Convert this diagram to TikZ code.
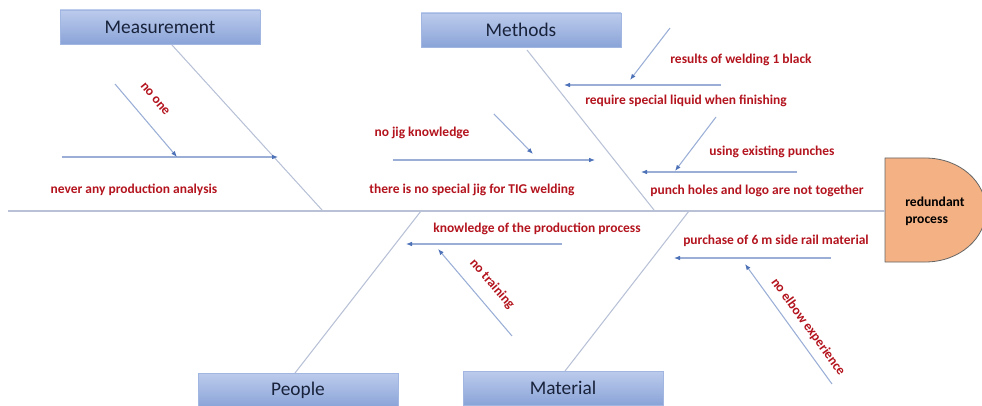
\documentclass[tikz,border=0pt]{standalone}
\usepackage{fontspec}
\setmainfont{Carlito}
\usetikzlibrary{arrows.meta}
\definecolor{boneC}{HTML}{B8C1D6}
\definecolor{lineC}{HTML}{9AAED6}
\definecolor{arrC}{HTML}{4E72B8}
\definecolor{txtR}{HTML}{B3141E}
\definecolor{boxT}{HTML}{BCCBEC}
\definecolor{boxB}{HTML}{8AA4D8}
\definecolor{boxTxt}{HTML}{18223A}
\definecolor{headC}{HTML}{F4B183}
\begin{document}
\begin{tikzpicture}[x=0.75pt,y=-0.75pt,
  bone/.style={draw=boneC,line width=0.8pt},
  cause/.style={draw=lineC,line width=0.8pt,-{Latex[length=4.5pt,width=3.5pt,color=arrC]}},
  catbox/.style={top color=boxT,bottom color=boxB,draw=boxB!80!white,
    minimum width=150pt,minimum height=25.5pt,inner sep=0pt,
    text=boxTxt,font=\fontsize{14.5}{16}\selectfont},
  lbl/.style={text=txtR,font=\bfseries\fontsize{10.1}{11}\selectfont,inner sep=0pt}]
\useasboundingbox (0,0) rectangle (982,406);
\clip (0,0) rectangle (982,406);

% head
\fill[headC] (885,158) -- (925,158) .. controls (960,158) and (986,182) .. (986,210)
  .. controls (986,238) and (960,262) .. (925,262) -- (885,262) -- cycle;
\draw[black!60,line width=0.6pt] (885,158) -- (925,158) .. controls (960,158) and (986,182) .. (986,210)
  .. controls (986,238) and (960,262) .. (925,262) -- (885,262) -- cycle;
\node[anchor=west,align=left,inner sep=0pt,font=\bfseries\fontsize{10.2}{12.5}\selectfont] (head) at (905,211) {redundant\\process};
\coordinate (headW) at (885,211);
\coordinate (tail) at (8,211);
\draw[bone] (tail) -- (headW);

% category boxes
\node[catbox] (meas) at (160,27) {Measurement};
\node[catbox] (meth) at (521,30) {Methods};
\node[catbox] (peop) at (298,390) {People};
\node[catbox] (matl) at (563,388) {Material};

% bones
\coordinate (measS) at (172,45);
\coordinate (measE) at (322,210);
\coordinate (methS) at (527,50);
\coordinate (methE) at (654,210);
\coordinate (peopS) at (295,373);
\coordinate (peopE) at (421,211);
\coordinate (matlS) at (565,371);
\coordinate (matlE) at (689,211);
\draw[bone] (measS) -- (measE);
\draw[bone] (methS) -- (methE);
\draw[bone] (peopS) -- (peopE);
\draw[bone] (matlS) -- (matlE);

% Measurement causes
\coordinate (m1a) at (62,157);
\coordinate (m1b) at (278,157);
\coordinate (m2a) at (115,84);
\coordinate (m2b) at (177,157);
\draw[cause] (m1a) -- (m1b);
\draw[cause] (m2a) -- (m2b);
\node[lbl,rotate=-50] (noone) at (155,99) {no one};
\node[lbl] (nepa) at (134,190) {never any production analysis};

% Methods causes
\coordinate (t1a) at (721,85);
\coordinate (t1b) at (564,85);
\coordinate (t2a) at (670,28);
\coordinate (t2b) at (630,80);
\draw[cause] (t1a) -- (t1b);
\draw[cause] (t2a) -- (t2b);
\node[lbl] (rw) at (741,60) {results of welding 1 black};
\node[lbl] (rsl) at (686,101) {require special liquid when finishing};

\coordinate (t3a) at (393,160);
\coordinate (t3b) at (595,160);
\coordinate (t4a) at (494,114);
\coordinate (t4b) at (533,154);
\draw[cause] (t3a) -- (t3b);
\draw[cause] (t4a) -- (t4b);
\node[lbl] (njk) at (422,133) {no jig knowledge};
\node[lbl] (nsj) at (472,190) {there is no special jig for TIG welding};

\coordinate (t5a) at (797,172);
\coordinate (t5b) at (641,172);
\coordinate (t6a) at (716,117);
\coordinate (t6b) at (675,171);
\draw[cause] (t5a) -- (t5b);
\draw[cause] (t6a) -- (t6b);
\node[lbl] (uep) at (772,152) {using existing punches};
\node[lbl] (phl) at (757,191) {punch holes and logo are not together};

% People causes
\coordinate (p1a) at (562,244);
\coordinate (p1b) at (406,244);
\coordinate (p2a) at (512,336);
\coordinate (p2b) at (438,249);
\draw[cause] (p1a) -- (p1b);
\draw[cause] (p2a) -- (p2b);
\node[lbl] (kpp) at (537,229) {knowledge of the production process};
\node[lbl,rotate=-49] (ntr) at (492,284) {no training};

% Material causes
\coordinate (q1a) at (831,258);
\coordinate (q1b) at (674,258);
\coordinate (q2a) at (832,384);
\coordinate (q2b) at (745,264);
\draw[cause] (q1a) -- (q1b);
\draw[cause] (q2a) -- (q2b);
\node[lbl] (pur) at (776,241) {purchase of 6 m side rail material};
\node[lbl,rotate=-54] (neb) at (808,327) {no elbow experience};
\end{tikzpicture}
\end{document}
